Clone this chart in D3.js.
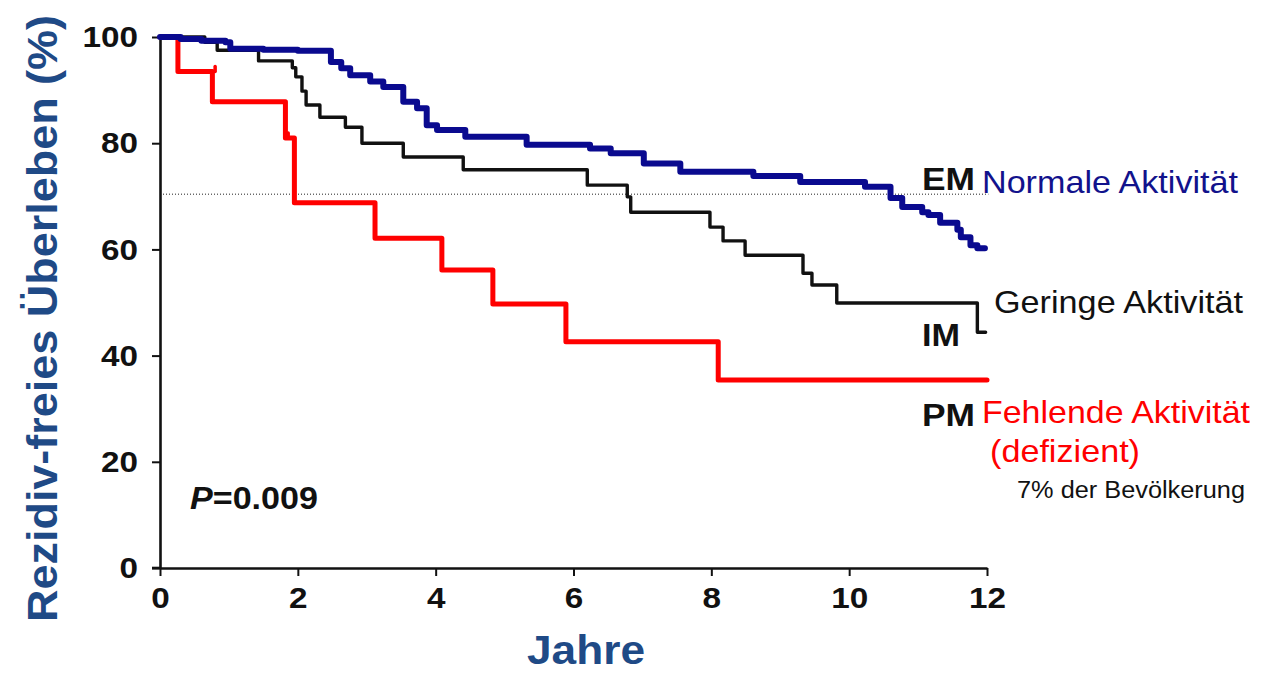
<!DOCTYPE html>
<html>
<head>
<meta charset="utf-8">
<script src="https://cdn.jsdelivr.net/npm/d3@7"></script>
<style>
  html, body { margin: 0; padding: 0; background: #fff; }
  svg { display: block; font-family: "Liberation Sans", Arial, Helvetica, sans-serif; }
</style>
</head>
<body>
<svg id="chart" width="1263" height="675"></svg>
<script>
// Kaplan-Meier step curves: time in years, recurrence-free survival in %
const emTime = [0, 0.3, 0.6, 0.95, 1.02, 1.5, 2.0, 2.48, 2.63, 2.76, 3.05, 3.24, 3.53, 3.73, 3.87, 4.02, 4.43, 5.32, 6.24, 6.54, 7.02, 7.55, 8.61, 9.29, 10.23, 10.6, 10.77, 11.06, 11.15, 11.32, 11.57, 11.62, 11.76, 11.86, 11.97];
const emSurv = [100, 99.6, 99.3, 99.0, 97.8, 97.6, 97.4, 95.3, 94.1, 92.8, 91.6, 90.6, 87.8, 86.6, 83.4, 82.5, 81.2, 79.7, 79.0, 78.1, 76.2, 74.6, 73.8, 72.7, 71.8, 69.7, 68.0, 67.0, 66.5, 65.0, 63.7, 62.3, 60.8, 60.2, 60.2];

const imTime = [0, 0.65, 0.83, 1.43, 1.92, 1.97, 2.06, 2.12, 2.32, 2.69, 2.93, 3.53, 4.4, 6.2, 6.78, 6.83, 7.98, 8.17, 8.49, 9.33, 9.46, 9.82, 11.86, 11.98];
const imSurv = [100, 99.0, 97.5, 95.5, 94.2, 92.5, 89.8, 87.2, 84.9, 83.0, 80.0, 77.4, 75.0, 72.1, 69.9, 67.0, 64.2, 61.6, 58.9, 55.5, 53.3, 49.9, 44.4, 44.4];

const pmTime = [0, 0.26, 0.76, 1.82, 1.95, 3.12, 4.09, 4.83, 5.89, 8.1, 12];
const pmSurv = [100, 93.5, 87.8, 81.0, 68.8, 62.1, 56.1, 49.7, 42.6, 35.4, 35.4];

// censored observations marked on the PM curve
const pmCensorTime = [0.8, 1.86];
const pmCensorSurv = [93.5, 81.0];

const xTicks = [0, 2, 4, 6, 8, 10, 12];
const yTicks = [0, 20, 40, 60, 80, 100];
const medianLevel = 70.4;

const svg = d3.select("#chart");
const x = d3.scaleLinear().domain([0, 12]).range([160, 987]);
const y = d3.scaleLinear().domain([0, 100]).range([568, 37]);

// reference level (dotted)
svg.append("line")
  .attr("x1", x(0)).attr("x2", x(12.02))
  .attr("y1", y(medianLevel)).attr("y2", y(medianLevel))
  .attr("stroke", "#222").attr("stroke-width", 1)
  .attr("stroke-dasharray", "1,2");

// axes
const yAxis = svg.append("g")
  .attr("transform", `translate(${x(0)},0)`)
  .call(d3.axisLeft(y).tickValues(yTicks).tickSize(8).tickSizeOuter(0).tickPadding(14));
const xAxis = svg.append("g")
  .attr("transform", `translate(0,${y(0)})`)
  .call(d3.axisBottom(x).tickValues(xTicks).tickSize(8).tickSizeOuter(0).tickPadding(11));

[yAxis, xAxis].forEach(g => {
  g.select(".domain").attr("stroke", "#111").attr("stroke-width", 2.6);
  g.selectAll(".tick line").attr("stroke", "#111").attr("stroke-width", 2);
  g.selectAll(".tick text")
    .attr("fill", "#111")
    .attr("lengthAdjust", "spacingAndGlyphs")
    .attr("textLength", function () { return this.textContent.length * 18.5; })
    .style("font-family", "'Liberation Sans', Arial, sans-serif")
    .style("font-weight", "bold")
    .style("font-size", "30px");
});
// x axis extends left to the y=0 tick
svg.append("line")
  .attr("x1", x(0) - 8).attr("x2", x(0))
  .attr("y1", y(0)).attr("y2", y(0))
  .attr("stroke", "#111").attr("stroke-width", 2.6);

const step = d3.line()
  .x(d => x(d[0]))
  .y(d => y(d[1]))
  .curve(d3.curveStepAfter);

const series = [
  { t: imTime, s: imSurv, color: "#111111", width: 3.4 },
  { t: pmTime, s: pmSurv, color: "#ff0000", width: 5 },
  { t: emTime, s: emSurv, color: "#0a0a8f", width: 6 }
];

series.forEach(sr => {
  const pts = sr.t.map((t, i) => [t, sr.s[i]]);
  svg.append("path")
    .attr("d", step(pts))
    .attr("fill", "none")
    .attr("stroke", sr.color)
    .attr("stroke-width", sr.width)
    .attr("stroke-linejoin", "round")
    .attr("stroke-linecap", "round");
});

// censor ticks
svg.selectAll(".censor")
  .data(pmCensorTime.map((t, i) => [t, pmCensorSurv[i]]))
  .enter().append("line")
  .attr("x1", d => x(d[0])).attr("x2", d => x(d[0]))
  .attr("y1", d => y(d[1])).attr("y2", d => y(d[1]) - 5)
  .attr("stroke", "#ff0000").attr("stroke-width", 3.5)
  .attr("stroke-linecap", "round");

// axis titles
const titleColor = "#1f4a86";
svg.append("text")
  .attr("transform", `translate(57,${(15 + 622) / 2}) rotate(-90)`)
  .attr("text-anchor", "middle")
  .attr("fill", titleColor)
  .attr("textLength", 607)
  .attr("lengthAdjust", "spacingAndGlyphs")
  .style("font-weight", "bold")
  .style("font-size", "43px")
  .text("Rezidiv-freies Überleben (%)");

svg.append("text")
  .attr("x", 527).attr("y", 664)
  .attr("fill", titleColor)
  .attr("textLength", 118)
  .attr("lengthAdjust", "spacingAndGlyphs")
  .style("font-weight", "bold")
  .style("font-size", "41px")
  .text("Jahre");

// p-value
const p = svg.append("text")
  .attr("x", 190).attr("y", 509)
  .attr("fill", "#111")
  .attr("textLength", 128)
  .attr("lengthAdjust", "spacingAndGlyphs")
  .style("font-weight", "bold")
  .style("font-size", "31px");
p.append("tspan").style("font-style", "italic").text("P");
p.append("tspan").text("=0.009");

// group labels
const groupLabels = [
  { text: "EM", x: 922, y: 190, w: 53, color: "#111", bold: true, size: 31 },
  { text: "Normale Aktivität", x: 982, y: 193, w: 256, color: "#12128c", bold: false, size: 32 },
  { text: "Geringe Aktivität", x: 994, y: 313, w: 249, color: "#111", bold: false, size: 32 },
  { text: "IM", x: 922, y: 346, w: 38, color: "#111", bold: true, size: 31 },
  { text: "PM", x: 922, y: 426, w: 53, color: "#111", bold: true, size: 31 },
  { text: "Fehlende Aktivität", x: 982, y: 423, w: 268, color: "#ff0000", bold: false, size: 32 },
  { text: "(defizient)", x: 990, y: 462, w: 150, color: "#ff0000", bold: false, size: 32 },
  { text: "7% der Bevölkerung", x: 1017, y: 498, w: 228, color: "#111", bold: false, size: 23 }
];
svg.selectAll(".glabel")
  .data(groupLabels)
  .enter().append("text")
  .attr("x", d => d.x).attr("y", d => d.y)
  .attr("fill", d => d.color)
  .attr("textLength", d => d.w)
  .attr("lengthAdjust", "spacingAndGlyphs")
  .style("font-weight", d => d.bold ? "bold" : "normal")
  .style("font-size", d => d.size + "px")
  .text(d => d.text);
</script>
</body>
</html>
